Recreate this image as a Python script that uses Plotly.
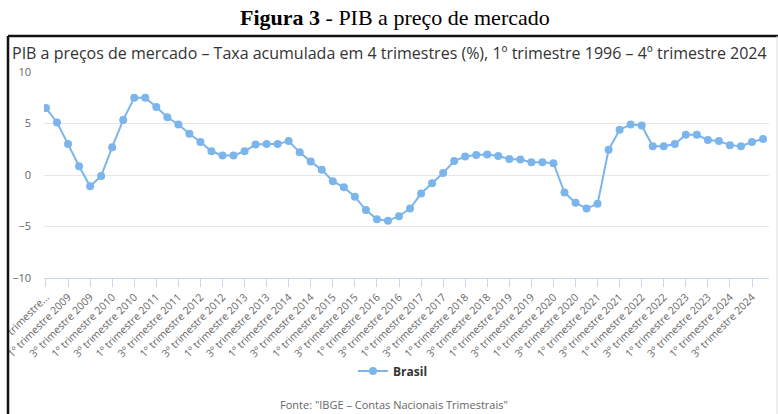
import plotly.graph_objects as go

categories = [
    "3º trimestre 2008", "4º trimestre 2008",
    "1º trimestre 2009", "2º trimestre 2009", "3º trimestre 2009", "4º trimestre 2009",
    "1º trimestre 2010", "2º trimestre 2010", "3º trimestre 2010", "4º trimestre 2010",
    "1º trimestre 2011", "2º trimestre 2011", "3º trimestre 2011", "4º trimestre 2011",
    "1º trimestre 2012", "2º trimestre 2012", "3º trimestre 2012", "4º trimestre 2012",
    "1º trimestre 2013", "2º trimestre 2013", "3º trimestre 2013", "4º trimestre 2013",
    "1º trimestre 2014", "2º trimestre 2014", "3º trimestre 2014", "4º trimestre 2014",
    "1º trimestre 2015", "2º trimestre 2015", "3º trimestre 2015", "4º trimestre 2015",
    "1º trimestre 2016", "2º trimestre 2016", "3º trimestre 2016", "4º trimestre 2016",
    "1º trimestre 2017", "2º trimestre 2017", "3º trimestre 2017", "4º trimestre 2017",
    "1º trimestre 2018", "2º trimestre 2018", "3º trimestre 2018", "4º trimestre 2018",
    "1º trimestre 2019", "2º trimestre 2019", "3º trimestre 2019", "4º trimestre 2019",
    "1º trimestre 2020", "2º trimestre 2020", "3º trimestre 2020", "4º trimestre 2020",
    "1º trimestre 2021", "2º trimestre 2021", "3º trimestre 2021", "4º trimestre 2021",
    "1º trimestre 2022", "2º trimestre 2022", "3º trimestre 2022", "4º trimestre 2022",
    "1º trimestre 2023", "2º trimestre 2023", "3º trimestre 2023", "4º trimestre 2023",
    "1º trimestre 2024", "2º trimestre 2024", "3º trimestre 2024", "4º trimestre 2024",
]

brasil = [
    6.5, 5.1,
    3.0, 0.85, -1.1, -0.1,
    2.7, 5.35, 7.5, 7.5,
    6.6, 5.6, 4.9, 4.0,
    3.2, 2.3, 1.9, 1.9,
    2.3, 2.95, 3.0, 3.0,
    3.3, 2.2, 1.3, 0.5,
    -0.6, -1.2, -2.1, -3.4,
    -4.3, -4.45, -4.0, -3.25,
    -1.8, -0.8, 0.2, 1.35,
    1.8, 1.95, 2.0, 1.85,
    1.55, 1.5, 1.25, 1.25,
    1.15, -1.7, -2.7, -3.25,
    -2.8, 2.45, 4.4, 4.9,
    4.8, 2.8, 2.8, 3.0,
    3.9, 3.9, 3.4, 3.3,
    2.9, 2.8, 3.2, 3.5,
]

tick_vals = categories[::2]
tick_text = ["trimestre..."] + categories[2::2]

doc_title = "<b>Figura 3</b> - PIB a preço de mercado"
chart_title = ("PIB a preços de mercado – Taxa acumulada em 4 trimestres (%), "
               "1º trimestre 1996 – 4º trimestre 2024")
source_text = 'Fonte: "IBGE – Contas Nacionais Trimestrais"'

W, H = 778, 414
PL, PR, PT, PB = 44, 769, 72, 278  # plot area in pixels


def px(x):
    return (x - PL) / (PR - PL)


def py(y):
    return (PB - y) / (PB - PT)


fig = go.Figure()
fig.add_trace(go.Scatter(
    x=categories, y=brasil, mode="lines+markers", name="Brasil",
    line=dict(color="#7cb5ec", width=2),
    marker=dict(color="#7cb5ec", size=8),
))

font_family = "Open Sans, DejaVu Sans, sans-serif"

fig.update_layout(
    width=W, height=H,
    margin=dict(l=PL, r=W - PR, t=PT, b=H - PB, pad=0, autoexpand=False),
    paper_bgcolor="white", plot_bgcolor="white",
    font=dict(family=font_family, color="#666666", size=11),
    showlegend=True,
    legend=dict(orientation="h", xref="container", yref="container",
                x=393 / W, y=1 - 371 / H, xanchor="center",
                yanchor="middle",
                font=dict(size=12, color="#333333", weight="bold"),
                itemwidth=30),
    xaxis=dict(
        type="category", range=[-0.18, 65.54], automargin=False,
        tickmode="array", tickvals=tick_vals, ticktext=tick_text,
        tickangle=-45, tickfont=dict(size=10.5, color="#666666"),
        showline=True, linecolor="#ccd6eb", linewidth=1,
        ticks="outside", ticklen=8, tickcolor="#ccd6eb", tickwidth=1,
        showgrid=False, zeroline=False, fixedrange=True,
    ),
    yaxis=dict(
        range=[-10, 10], tickmode="linear", tick0=-10, dtick=5,
        automargin=False,
        showgrid=True, gridcolor="#e6e6e6", gridwidth=1,
        zeroline=False, showline=False, ticks="",
        ticklabelstandoff=12, tickfont=dict(size=11, color="#666666"),
        fixedrange=True,
    ),
    annotations=[
        dict(text=doc_title, x=px(395), y=py(18), xref="paper", yref="paper",
             xanchor="center", yanchor="middle", showarrow=False,
             font=dict(family="Liberation Serif, DejaVu Serif, serif", size=22,
                       color="#000000")),
        dict(text=chart_title, x=px(10), y=py(53), xref="paper", yref="paper",
             xanchor="left", yanchor="middle", showarrow=False,
             font=dict(family=font_family, size=16, color="#333333")),
        dict(text=source_text, x=px(394), y=py(404), xref="paper", yref="paper",
             xanchor="center", yanchor="middle", showarrow=False,
             font=dict(family=font_family, size=11, color="#666666")),
    ],
    shapes=[
        dict(type="rect", xref="paper", yref="paper", x0=px(0), x1=px(7),
             y0=py(414), y1=py(36), fillcolor="white", line=dict(width=0),
             layer="above"),
        dict(type="line", xref="paper", yref="paper", x0=px(8), x1=px(778),
             y0=py(36), y1=py(36), line=dict(color="#111111", width=2.5),
             layer="above"),
        dict(type="line", xref="paper", yref="paper", x0=px(8), x1=px(8),
             y0=py(36), y1=py(414), line=dict(color="#111111", width=2.5),
             layer="above"),
        dict(type="line", xref="paper", yref="paper", x0=px(777), x1=px(777),
             y0=py(36), y1=py(414), line=dict(color="#dddddd", width=1),
             layer="above"),
    ],
)

fig.write_html(
    "out.html",
    config={"displayModeBar": False},
    post_script="document.body.style.margin='0';document.body.style.overflow='hidden';",
)
